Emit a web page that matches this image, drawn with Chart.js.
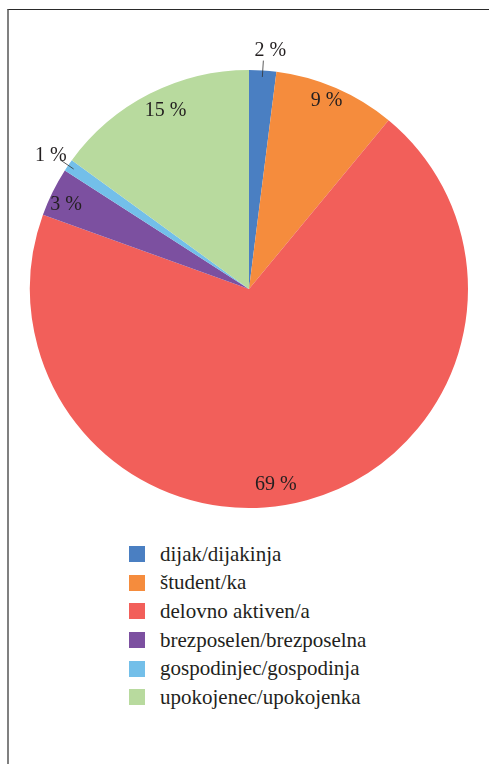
<!DOCTYPE html>
<html>
<head>
<meta charset="utf-8">
<script src="https://cdn.jsdelivr.net/npm/chart.js@4/dist/chart.umd.min.js"></script>
<style>
  html, body { margin: 0; padding: 0; background: #fff; }
  body { width: 489px; height: 764px; position: relative; overflow: hidden; }
  .frame {
    position: absolute; left: 7px; top: 9px; right: -5px; bottom: -5px;
    border-top: 1px solid #2a2a2a; border-left: 2px solid #808080;
  }
  .chart-box { position: absolute; left: 0; top: 0; width: 489px; height: 530px; }
  .legend {
    position: absolute; left: 129px; top: 540px; margin: 0; padding: 0; list-style: none;
    font-family: "Liberation Serif", "Times New Roman", "DejaVu Serif", serif; font-size: 21px; color: #231f20;
  }
  .legend li { height: 28.6px; display: flex; align-items: center; }
  .legend span.box { width: 16px; height: 16px; margin-right: 15px; display: inline-block; flex: none; }
</style>
</head>
<body>
<div class="frame"></div>
<div class="chart-box"><canvas id="pieChart"></canvas></div>
<ul class="legend" id="legend"></ul>
<script>
// dados
const categories = ['dijak/dijakinja', 'študent/ka', 'delovno aktiven/a', 'brezposelen/brezposelna', 'gospodinjec/gospodinja', 'upokojenec/upokojenka'];
const shares = [2, 9, 69.5, 3.6, 0.9, 15];
const shareLabels = ['2 %', '9 %', '69 %', '3 %', '1 %', '15 %'];
const colors = ['#4a7fc2', '#f58c3d', '#f25f5a', '#7c50a0', '#73bfe9', '#b8da9e'];

// posicao dos rotulos (fator do raio, desvio do angulo em graus, linha guia)
const labelStyle = [
    { r: 1.09, da: 1.5, leader: true },
    { r: 0.93, da: -1, leader: false },
    { r: 0.90, da: 7.5, leader: false },
    { r: 0.92, da: -1.5, leader: false },
    { r: 1.09, da: -0.5, leader: true },
    { r: 0.90, da: 2, leader: false }
];

const pieLabels = {
    id: 'pieLabels',
    afterDatasetsDraw(chart) {
        const ctx = chart.ctx;
        const meta = chart.getDatasetMeta(0);
        ctx.save();
        ctx.font = '20px "Liberation Serif", "Times New Roman", "DejaVu Serif", serif';
        ctx.fillStyle = '#231f20';
        ctx.textAlign = 'center';
        ctx.textBaseline = 'middle';
        meta.data.forEach((arc, i) => {
            const p = arc.getProps(['x', 'y', 'startAngle', 'endAngle', 'outerRadius'], true);
            const st = labelStyle[i];
            const mid = (p.startAngle + p.endAngle) / 2;
            const a = mid + st.da * Math.PI / 180;
            const R = p.outerRadius;
            if (st.leader) {
                ctx.strokeStyle = '#333';
                ctx.lineWidth = 0.8;
                ctx.beginPath();
                ctx.moveTo(p.x + Math.cos(mid) * R * 0.97, p.y + Math.sin(mid) * R * 0.97);
                ctx.lineTo(p.x + Math.cos(mid) * R * 1.045, p.y + Math.sin(mid) * R * 1.045);
                ctx.stroke();
            }
            ctx.fillText(shareLabels[i], p.x + Math.cos(a) * R * st.r, p.y + Math.sin(a) * R * st.r);
        });
        ctx.restore();
    }
};

new Chart(document.getElementById('pieChart'), {
    type: 'pie',
    data: {
        labels: categories,
        datasets: [{
            data: shares,
            backgroundColor: colors,
            borderWidth: 0
        }]
    },
    options: {
        responsive: true,
        maintainAspectRatio: false,
        animation: false,
        layout: { padding: { left: 30, right: 21, top: 70, bottom: 22 } },
        plugins: {
            legend: { display: false },
            tooltip: { enabled: false }
        }
    },
    plugins: [pieLabels]
});

// legenda
const legend = document.getElementById('legend');
categories.forEach((name, i) => {
    const li = document.createElement('li');
    li.innerHTML = `<span class="box" style="background:${colors[i]}"></span>${name}`;
    legend.appendChild(li);
});
</script>
</body>
</html>
